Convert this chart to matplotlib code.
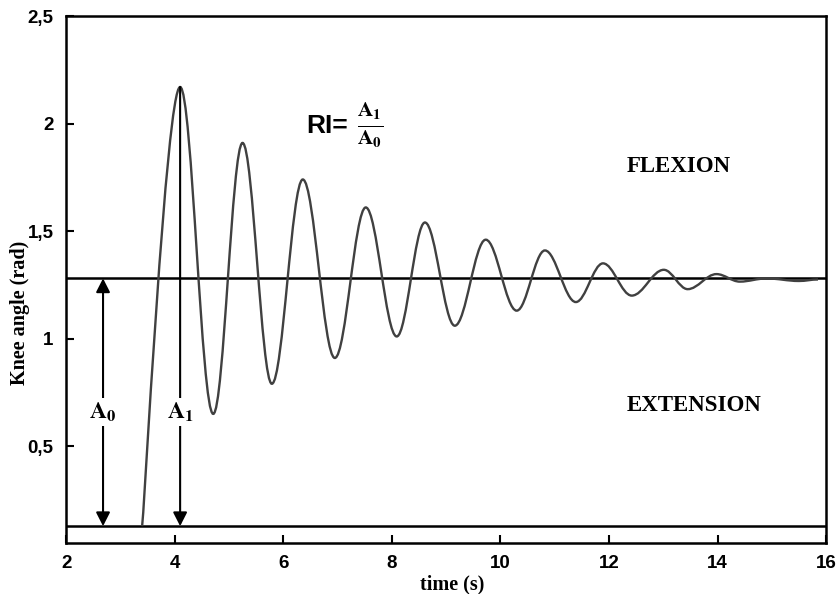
import matplotlib
matplotlib.use("Agg")
import matplotlib.pyplot as plt
from matplotlib.path import Path
from matplotlib.patches import PathPatch

# extrema of the knee angle trace
times = [3.40, 4.10, 4.71, 5.25, 5.79, 6.36, 6.95, 7.52, 8.09, 8.61, 9.16, 9.73,
         10.30, 10.82, 11.39, 11.89, 12.42, 13.01, 13.45, 13.98, 14.41, 14.90,
         15.50, 15.85]
angles = [0.128, 2.17, 0.65, 1.91, 0.79, 1.74, 0.91, 1.61, 1.01, 1.54, 1.06, 1.46,
          1.13, 1.41, 1.17, 1.35, 1.20, 1.32, 1.23, 1.30, 1.265, 1.28,
          1.268, 1.275]

rest_angle = 1.28      # final position (horizontal line)
start_angle = 0.128    # initial position (lower line)
a0_time = 2.68
a1_time = 4.10

xticks = [2, 4, 6, 8, 10, 12, 14, 16]
yticks = [0.5, 1, 1.5, 2, 2.5]
ytick_labels = ["0,5", "1", "1,5", "2", "2,5"]

serif = "Liberation Serif"
sans = "Liberation Sans"

fig = plt.figure(figsize=(8.37, 5.94), dpi=100)
ax = fig.add_axes([0.079, 0.086, 0.908, 0.887])

# smooth trace: cubic segments with flat tangents at each extremum
verts = [(times[0], angles[0])]
codes = [Path.MOVETO]
for i in range(len(times) - 1):
    t0, y0 = times[i], angles[i]
    t1, y1 = times[i + 1], angles[i + 1]
    dt = t1 - t0
    c0 = 0.03 if i == 0 else 0.36
    verts += [(t0 + c0 * dt, y0), (t1 - 0.36 * dt, y1), (t1, y1)]
    codes += [Path.CURVE4] * 3
ax.add_patch(PathPatch(Path(verts, codes), fill=False, lw=1.7, edgecolor="#404040",
                       transform=ax.transData, zorder=3))

ax.axhline(rest_angle, color="black", lw=1.8, zorder=2)
ax.axhline(start_angle, color="black", lw=1.8, zorder=2)

# A0 double arrow, A1 arrow from first peak
head = "head_length=0.55,head_width=0.28"
ax.annotate("", xy=(a0_time, start_angle), xytext=(a0_time, rest_angle),
            arrowprops=dict(arrowstyle="<|-|>," + head, color="black", lw=1.5,
                            mutation_scale=15, shrinkA=0, shrinkB=0), zorder=4)
ax.annotate("", xy=(a1_time, start_angle), xytext=(a1_time, max(angles)),
            arrowprops=dict(arrowstyle="-|>," + head, color="black", lw=1.5,
                            mutation_scale=15, shrinkA=0, shrinkB=0), zorder=4)
box = dict(facecolor="white", edgecolor="none", pad=1.5)
ax.text(a0_time, 0.66, r"$\mathbf{A_0}$", ha="center", va="center", fontsize=17,
        math_fontfamily="stix", bbox=box, zorder=5)
ax.text(a1_time, 0.66, r"$\mathbf{A_1}$", ha="center", va="center", fontsize=17,
        math_fontfamily="stix", bbox=box, zorder=5)

ax.text(6.43, 1.99, "RI=", fontfamily=sans, fontweight="bold", fontsize=19,
        ha="left", va="center")
ax.text(7.35, 1.99, r"$\frac{\mathbf{A_1}}{\mathbf{A_0}}$", fontsize=22,
        math_fontfamily="stix", ha="left", va="center")

ax.text(12.33, 1.80, "FLEXION", fontfamily=serif, fontweight="bold", fontsize=16.5,
        ha="left", va="center")
ax.text(12.33, 0.687, "EXTENSION", fontfamily=serif, fontweight="bold", fontsize=16.5,
        ha="left", va="center")

ax.set_xlim(2, 16)
ax.set_ylim(0.05, 2.5)
ax.set_xticks(xticks)
ax.set_xticklabels([str(v) for v in xticks])
ax.set_yticks(yticks)
ax.set_yticklabels(ytick_labels)
ax.tick_params(direction="in", length=6, width=1.5, pad=9)
for lab in ax.get_xticklabels() + ax.get_yticklabels():
    lab.set_fontfamily(sans)
    lab.set_fontweight("bold")
    lab.set_fontsize(13.5)
for sp in ax.spines.values():
    sp.set_linewidth(1.8)

ax.set_xlabel("time (s)", fontfamily=serif, fontweight="bold", fontsize=14.5)
ax.set_ylabel("Knee angle (rad)", fontfamily=serif, fontweight="bold", fontsize=14.5)
ax.xaxis.set_label_coords(0.508, -0.06)
ax.yaxis.set_label_coords(-0.048, 0.436)

fig.savefig("out.png", dpi=100)
